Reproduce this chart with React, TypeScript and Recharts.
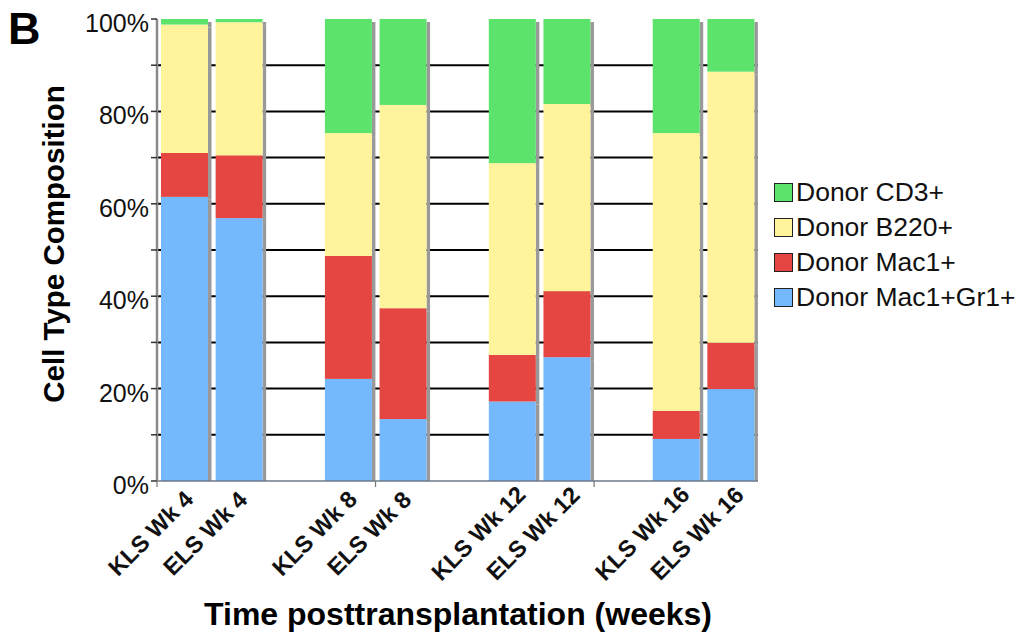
import React from "react";
import { BarChart, Bar, XAxis, YAxis, CartesianGrid } from "recharts";

const categories = ["KLS Wk 4", "ELS Wk 4", "", "KLS Wk 8", "ELS Wk 8", "", "KLS Wk 12", "ELS Wk 12", "", "KLS Wk 16", "ELS Wk 16"];
const mac1Gr1 = [61.5, 56.9, null, 22.1, 13.4, null, 17.2, 26.8, null, 9.1, 19.9];
const mac1 = [9.5, 13.6, null, 26.6, 24.0, null, 10.1, 14.3, null, 6.1, 10.0];
const b220 = [27.8, 28.8, null, 26.6, 44.0, null, 41.5, 40.5, null, 60.1, 58.7];
const cd3 = [1.2, 0.7, null, 24.7, 18.6, null, 31.2, 18.4, null, 24.7, 11.4];
const yTicks = [0, 10, 20, 30, 40, 50, 60, 70, 80, 90, 100];
const gridValues = [10, 20, 30, 40, 50, 60, 70, 80, 90];

const series = [
  { key: "mac1Gr1", name: "Donor Mac1+Gr1+", color: "#74b8fe", values: mac1Gr1 },
  { key: "mac1", name: "Donor Mac1+", color: "#e54641", values: mac1 },
  { key: "b220", name: "Donor B220+", color: "#fff39c", values: b220 },
  { key: "cd3", name: "Donor CD3+", color: "#5ce36c", values: cd3 },
];

const data = categories.map((name, i) => {
  const row: any = { name };
  series.forEach((s) => {
    row[s.key] = s.values[i];
  });
  return row;
});

const FONT = "'Liberation Sans', Arial, Helvetica, sans-serif";

function makeShape(isBottom: boolean) {
  return (props: any) => {
    const { x, y, width, height, fill } = props;
    if (height == null || !(height > 0)) return <g />;
    const sh = isBottom ? Math.max(0, height - 3) : height;
    return (
      <g>
        <rect x={x + width} y={y + 3} width={3.5} height={sh} fill="#999999" />
        <rect x={x} y={y} width={width} height={height} fill={fill} />
      </g>
    );
  };
}

const XTick = (props: any) => {
  const { x, y, payload } = props;
  const idx = payload?.index ?? 0;
  const label = categories[idx] || "";
  const half = payload?.offset ?? 27.3;
  const cx = x - 28;
  const cy = y + 50;
  return (
    <g>
      {idx % 4 === 0 ? (
        <line x1={x - half} x2={x - half} y1={y - 8} y2={y - 2} stroke="#777" strokeWidth={1.2} />
      ) : null}
      {label ? (
        <text
          x={cx}
          y={cy}
          textAnchor="middle"
          fontFamily={FONT}
          fontWeight="bold"
          fontSize={23.5}
          fill="#111"
          transform={`rotate(-45, ${cx}, ${cy})`}
        >
          {label}
        </text>
      ) : null}
    </g>
  );
};

const YTick = (props: any) => {
  const { x, y, payload } = props;
  const v = payload.value;
  if (v % 20 !== 0) return <g />;
  return (
    <text x={x} y={y} dy={13} textAnchor="end" fontFamily={FONT} fontSize={25} fill="#111">
      {`${v}%`}
    </text>
  );
};

export default function App() {
  const legendItems = [...series].reverse();
  return (
    <div style={{ position: "absolute", left: 0, top: 0, width: 1017, height: 638, background: "#fff" }}>
      <BarChart
        width={1017}
        height={638}
        data={data}
        margin={{ top: 19, right: 259, bottom: 0, left: 0 }}
        barSize={47}
      >
        <CartesianGrid horizontal vertical={false} stroke="#000" strokeWidth={2} horizontalValues={gridValues} />
        <XAxis
          dataKey="name"
          interval={0}
          height={157}
          tickLine={false}
          axisLine={{ stroke: "#6d7a8a", strokeWidth: 1.5 }}
          tick={<XTick />}
        />
        <XAxis
          xAxisId="top"
          orientation="top"
          dataKey="name"
          height={0}
          tick={false}
          tickLine={false}
          axisLine={{ stroke: "#999", strokeWidth: 2.5 }}
        />
        <YAxis
          domain={[0, 100]}
          ticks={yTicks}
          interval={0}
          width={157}
          tickSize={6}
          tickLine={{ stroke: "#333", strokeWidth: 1.5 }}
          axisLine={{ stroke: "#8a8a8a", strokeWidth: 2.5 }}
          tick={<YTick />}
        />
        <YAxis
          yAxisId="right"
          orientation="right"
          domain={[0, 100]}
          width={0}
          tick={false}
          tickLine={false}
          axisLine={{ stroke: "#999", strokeWidth: 2.5 }}
        />
        {series.map((s, i) => (
          <Bar
            key={s.key}
            dataKey={s.key}
            name={s.name}
            stackId="a"
            fill={s.color}
            isAnimationActive={false}
            shape={makeShape(i === 0)}
          />
        ))}
      </BarChart>
      <svg
        width={1017}
        height={638}
        style={{ position: "absolute", left: 0, top: 0, pointerEvents: "none" }}
      >
        <text x={8} y={44} fontFamily={FONT} fontWeight="bold" fontSize={45} fill="#000">
          B
        </text>
        <text
          x={64}
          y={244}
          textAnchor="middle"
          fontFamily={FONT}
          fontWeight="bold"
          fontSize={29.5}
          fill="#000"
          transform="rotate(-90, 64, 244)"
        >
          Cell Type Composition
        </text>
        <text x={458} y={625} textAnchor="middle" fontFamily={FONT} fontWeight="bold" fontSize={32} fill="#000">
          Time posttransplantation (weeks)
        </text>
      </svg>
      <div style={{ position: "absolute", left: 774, top: 175, fontFamily: FONT, fontSize: 26.5, color: "#111" }}>
        {legendItems.map((s) => (
          <div key={s.key} style={{ display: "flex", alignItems: "center", height: 35, whiteSpace: "nowrap" }}>
            <div
              style={{
                width: 17,
                height: 17,
                background: s.color,
                border: "1.5px solid #222",
                marginRight: 3,
                flexShrink: 0,
              }}
            />
            <span>{s.name}</span>
          </div>
        ))}
      </div>
    </div>
  );
}
